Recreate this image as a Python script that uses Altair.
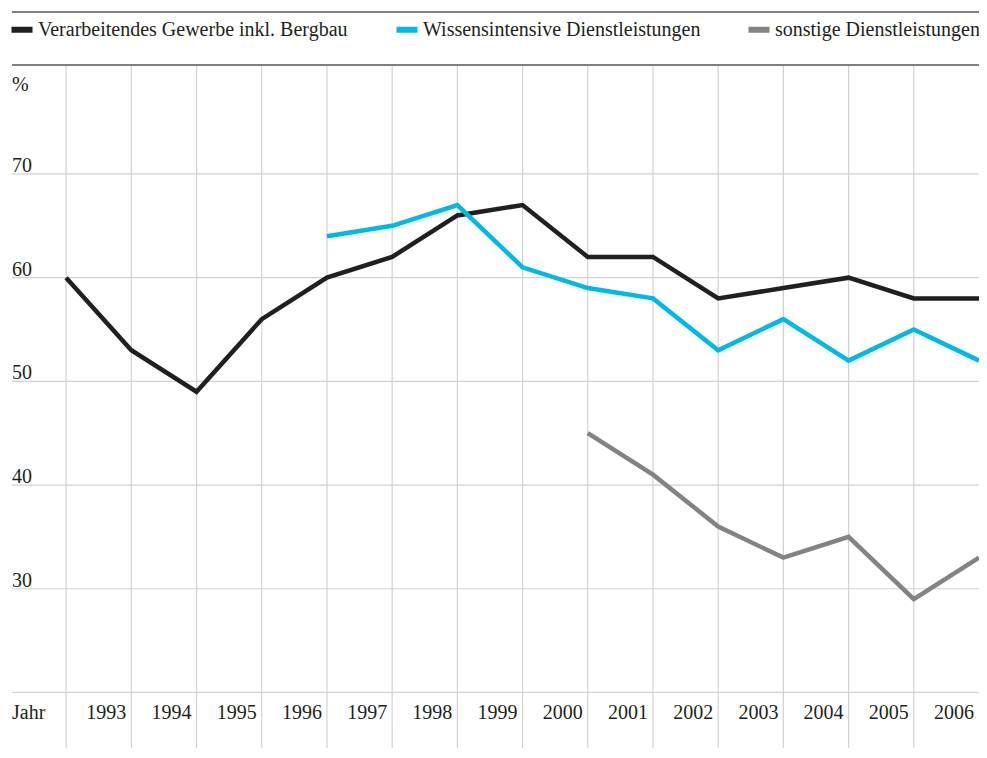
import altair as alt
import pandas as pd

# ---- data ----
series_names = [
    "Verarbeitendes Gewerbe inkl. Bergbau",
    "Wissensintensive Dienstleistungen",
    "sonstige Dienstleistungen",
]
series_colors = ["#231f20", "#00b9e6", "#838386"]

verarb_years = list(range(1992, 2007))
verarb_values = [60, 53, 49, 56, 60, 62, 66, 67, 62, 62, 58, 59, 60, 58, 58]

wissen_years = list(range(1996, 2007))
wissen_values = [64, 65, 67, 61, 59, 58, 53, 56, 52, 55, 52]

sonst_years = list(range(2000, 2007))
sonst_values = [45, 41, 36, 33, 35, 29, 33]

y_grid = [20, 30, 40, 50, 60, 70]
y_tick_labels = ["30", "40", "50", "60", "70"]
y_tick_values = [30, 40, 50, 60, 70]
x_grid_years = list(range(1992, 2006))
x_label_years = list(range(1993, 2007))
x_tick_labels = [str(y) for y in x_label_years]

FONT = "Liberation Serif"
TXT = "#231f20"

# ---- tables ----
rows = []
for name, yrs, vals in [
    (series_names[0], verarb_years, verarb_values),
    (series_names[1], wissen_years, wissen_values),
    (series_names[2], sonst_years, sonst_values),
]:
    for yr, v in zip(yrs, vals):
        rows.append({"series": name, "year": yr, "value": v})
lines_df = pd.DataFrame(rows)
hgrid_df = pd.DataFrame({"value": y_grid})
vgrid_df = pd.DataFrame({"year": x_grid_years})
ylab_df = pd.DataFrame({"value": y_tick_values, "label": y_tick_labels})
xlab_df = pd.DataFrame({"year": x_label_years, "label": x_tick_labels})
frame_df = pd.DataFrame({"pos": [0, 53]})

W, H = 967, 736
xs = alt.Scale(domain=[1991.17, 2006], nice=False, zero=False)
ys = alt.Scale(domain=[14.64, 85.62], nice=False, zero=False)

hgrid = alt.Chart(hgrid_df).mark_rule(color="#d2d2d2", strokeWidth=1.2).encode(
    y=alt.Y("value:Q", scale=ys, axis=None),
    x=alt.value(0), x2=alt.value(W),
)
vgrid = alt.Chart(vgrid_df).mark_rule(color="#d2d2d2", strokeWidth=1.2).encode(
    x=alt.X("year:Q", scale=xs, axis=None),
    y=alt.value(54), y2=alt.value(H),
)
frame = alt.Chart(frame_df).mark_rule(color="#555555", strokeWidth=1.5).encode(
    y=alt.Y("pos:Q", scale=None, axis=None),
    x=alt.value(0), x2=alt.value(W),
)

lines = alt.Chart(lines_df).mark_line(strokeWidth=4.5, strokeJoin="miter").encode(
    x=alt.X("year:Q", scale=xs, axis=None),
    y=alt.Y("value:Q", scale=ys, axis=None),
    color=alt.Color(
        "series:N",
        scale=alt.Scale(domain=series_names, range=series_colors),
        sort=series_names,
        legend=alt.Legend(
            orient="none", legendX=-3.5, legendY=4, direction="horizontal",
            title=None, padding=0,
            symbolType="M-1,0H1", symbolSize=441, symbolStrokeWidth=6,
            labelFont=FONT, labelFontSize=20, labelColor=TXT,
            labelOffset=2.5, columnPadding=36, labelLimit=500,
        ),
    ),
    detail="series:N",
)

ylabels = alt.Chart(ylab_df).mark_text(
    align="left", baseline="alphabetic", dy=-2, font=FONT, fontSize=20, color=TXT
).encode(
    y=alt.Y("value:Q", scale=ys, axis=None),
    x=alt.value(0),
    text="label:N",
)
xlabels = alt.Chart(xlab_df).mark_text(
    align="right", baseline="alphabetic", dx=-5, font=FONT, fontSize=20, color=TXT
).encode(
    x=alt.X("year:Q", scale=xs, axis=None),
    y=alt.value(707),
    text="label:N",
)
pct = alt.Chart(pd.DataFrame({"t": ["%"]})).mark_text(
    align="left", baseline="alphabetic", font=FONT, fontSize=20, color=TXT
).encode(x=alt.value(0), y=alt.value(79), text="t:N")
jahr = alt.Chart(pd.DataFrame({"t": ["Jahr"]})).mark_text(
    align="left", baseline="alphabetic", font=FONT, fontSize=20, color=TXT
).encode(x=alt.value(0), y=alt.value(707), text="t:N")

chart = alt.layer(hgrid, vgrid, frame, lines, ylabels, xlabels, pct, jahr).properties(
    width=W, height=H,
    autosize=alt.AutoSizeParams(type="none"),
    padding={"left": 4, "top": 4, "right": 0, "bottom": 0},
).configure_view(stroke=None)

chart.save("out.html", embed_options={"renderer": "svg", "actions": False})
